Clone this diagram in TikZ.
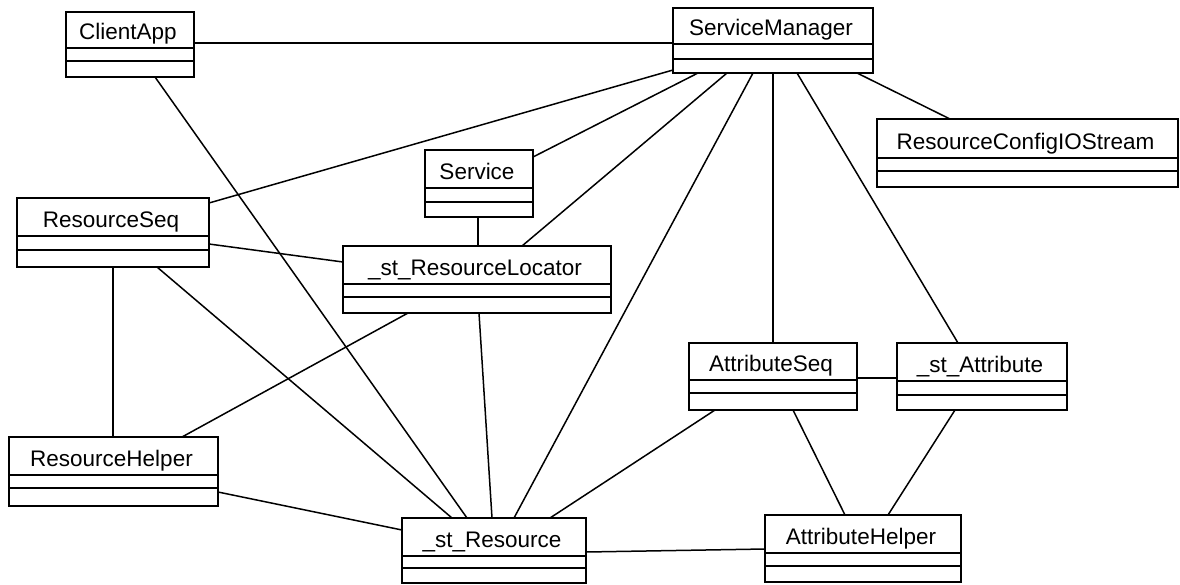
\documentclass[tikz,border=0pt]{standalone}
\usepackage{fontspec}
\setmainfont{Liberation Sans}
\usetikzlibrary{calc}
\tikzset{
  classbox/.style={draw, line width=1.6pt, inner sep=0pt, outer sep=0pt, anchor=north west},
  divider/.style={line width=1.6pt},
  classname/.style={inner sep=0pt, anchor=base, font=\fontsize{22.5}{26}\selectfont},
  conn/.style={line width=1.5pt},
}
\newcommand\umlbox[8]{%
  \pgfmathsetmacro\bw{#4-#2}%
  \pgfmathsetmacro\bh{#5-#3}%
  \node[classbox, minimum width=\bw pt, minimum height=\bh pt] (#1) at (#2,#3) {};
  \draw[divider] (#2,#6) -- (#4,#6) (#2,#7) -- (#4,#7);
  \node[classname] (#1-label) at ({(#2+#4)/2-2},{#6-9}) {#8};
}
\begin{document}
\begin{tikzpicture}[x=1pt,y=-1pt]
\useasboundingbox[fill=white] (0,0) rectangle (1180,584);
\umlbox{ca}{66}{12}{194}{77}{48}{61}{ClientApp}
\umlbox{sm}{673}{8}{873}{73}{44}{59}{ServiceManager}
\umlbox{rc}{877}{119}{1178}{187}{158}{171}{ResourceConfigIOStream}
\umlbox{rs}{17}{198}{209}{267}{236}{250}{ResourceSeq}
\umlbox{svc}{425}{150}{533}{217}{188}{202}{Service}
\umlbox{loc}{343}{246}{611}{313}{284}{297}{\_st\_ResourceLocator}
\umlbox{rh}{9}{437}{218}{506}{475}{488}{ResourceHelper}
\umlbox{res}{402}{518}{586}{583}{556}{568}{\_st\_Resource}
\umlbox{aseq}{689}{343}{857}{410}{380}{393}{AttributeSeq}
\umlbox{satt}{897}{343}{1067}{410}{381}{395}{\_st\_Attribute}
\umlbox{ah}{765}{515}{961}{582}{553}{566}{AttributeHelper}

\draw[conn] ([yshift=34pt]ca.south east) -- ([yshift=30pt]sm.south west);
\draw[conn] ([xshift=89pt]ca.south west) -- ([xshift=65pt]res.north west);
\draw[conn] ([yshift=3pt]sm.south west) -- ([yshift=-5pt]rs.north east);
\draw[conn] ([xshift=25pt]sm.south west) -- ([yshift=-7pt]svc.north east);
\draw[conn] ([xshift=54pt]sm.south west) -- ([xshift=179pt]loc.north west);
\draw[conn] ([xshift=80pt]sm.south west) -- ([xshift=112pt]res.north west);
\draw[conn] ([xshift=100pt]sm.south west) -- ([xshift=84pt]aseq.north west);
\draw[conn] ([xshift=124pt]sm.south west) -- ([xshift=61pt]satt.north west);
\draw[conn] ([xshift=184pt]sm.south west) -- ([xshift=73pt]rc.north west);
\draw[conn] ([xshift=53pt]svc.south west) -- ([xshift=135pt]loc.north west);
\draw[conn] ([yshift=23pt]rs.south east) -- ([yshift=-16pt]loc.north west);
\draw[conn] ([xshift=96pt]rs.south west) -- ([xshift=104pt]rh.north west);
\draw[conn] ([xshift=140pt]rs.south west) -- ([xshift=50pt]res.north west);
\draw[conn] ([xshift=65pt]loc.south west) -- ([xshift=173pt]rh.north west);
\draw[conn] ([xshift=136pt]loc.south west) -- ([xshift=90pt]res.north west);
\draw[conn] ([yshift=14pt]rh.south east) -- ([yshift=-12pt]res.north west);
\draw[conn] ([xshift=26pt]aseq.south west) -- ([xshift=148pt]res.north west);
\draw[conn] ([yshift=32pt]aseq.south east) -- ([yshift=32pt]satt.south west);
\draw[conn] ([xshift=104pt]aseq.south west) -- ([xshift=80pt]ah.north west);
\draw[conn] ([xshift=58pt]satt.south west) -- ([xshift=123pt]ah.north west);
\draw[conn] ([yshift=31pt]res.south east) -- ([yshift=33pt]ah.south west);
\end{tikzpicture}
\end{document}
